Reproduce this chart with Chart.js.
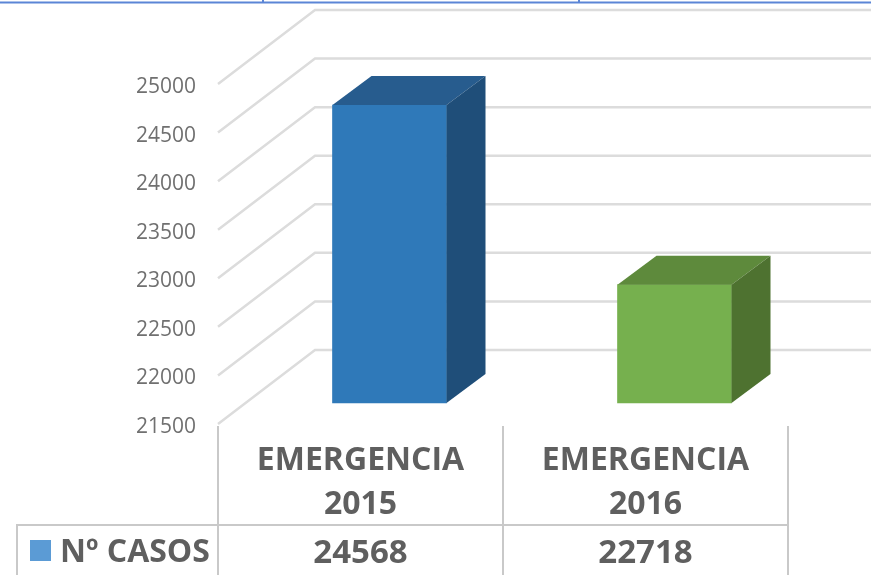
<!DOCTYPE html>
<html lang="en">
<head>
    <meta charset="UTF-8">
    <title>Emergencia 2015 / 2016</title>
    <script src="https://cdn.jsdelivr.net/npm/chart.js"></script>
    <style>
        body { margin: 0; background: #fff; }
        canvas { display: block; }
    </style>
</head>
<body>
    <canvas id="casosChart" width="871" height="575"></canvas>
    <script>
        // data
        const categories = [['EMERGENCIA', '2015'], ['EMERGENCIA', '2016']];
        const seriesName = 'Nº CASOS';
        const casos = [24568, 22718];
        const yTicks = [21500, 22000, 22500, 23000, 23500, 24000, 24500, 25000];

        const frontColors = ['#2f79b9', '#76b04e'];
        const topColors = ['#275c8e', '#5e8a3c'];
        const sideColors = ['#1f4e79', '#4e7230'];
        const legendColor = '#5b9bd5';
        const gridColor = '#dcdcdc';
        const tableColor = '#c9c9c9';
        const textColor = '#5f5f5f';
        const fontName = '"Open Sans", sans-serif';

        // fake 3d: wall depth and bar depth, in pixels
        const wall = { dx: 97, dy: 74 };
        const barShift = { dx: 29, dy: 21 };
        const barDepth = { dx: 39, dy: 29 };

        // walls, gridlines and y labels, follows the y scale
        const gridPlugin = {
            id: 'grid3d',
            beforeDatasetsDraw(chart) {
                const { ctx, chartArea, scales } = chart;
                ctx.save();
                ctx.strokeStyle = gridColor;
                ctx.lineWidth = 2.5;
                ctx.fillStyle = '#707070';
                ctx.font = '21px ' + fontName;
                ctx.textAlign = 'right';
                ctx.textBaseline = 'middle';
                scales.y.ticks.forEach(t => {
                    const y = scales.y.getPixelForValue(t.value);
                    ctx.beginPath();
                    ctx.moveTo(chartArea.left, y);
                    ctx.lineTo(chartArea.left + wall.dx, y - wall.dy);
                    ctx.lineTo(chart.width, y - wall.dy);
                    ctx.stroke();
                    // open sans sits high on the middle baseline
                    ctx.fillText(String(t.value), chartArea.left - 22, y + 3);
                });
                ctx.restore();
            }
        };

        // moves the real bars back on the floor, then adds top and side faces
        const barPlugin = {
            id: 'bars3d',
            beforeDatasetDraw(chart) {
                chart.ctx.save();
                chart.ctx.translate(barShift.dx, -barShift.dy);
            },
            afterDatasetDraw(chart, args) {
                const ctx = chart.ctx;
                args.meta.data.forEach((bar, i) => {
                    const l = bar.x - bar.width / 2;
                    const r = bar.x + bar.width / 2;
                    const d = barDepth;
                    ctx.fillStyle = topColors[i];
                    ctx.beginPath();
                    ctx.moveTo(l, bar.y);
                    ctx.lineTo(l + d.dx, bar.y - d.dy);
                    ctx.lineTo(r + d.dx, bar.y - d.dy);
                    ctx.lineTo(r, bar.y);
                    ctx.closePath();
                    ctx.fill();
                    ctx.fillStyle = sideColors[i];
                    ctx.beginPath();
                    ctx.moveTo(r, bar.y);
                    ctx.lineTo(r + d.dx, bar.y - d.dy);
                    ctx.lineTo(r + d.dx, bar.base - d.dy);
                    ctx.lineTo(r, bar.base);
                    ctx.closePath();
                    ctx.fill();
                });
                ctx.restore();
            }
        };

        // data table under the chart + thin blue line at the top of the crop
        const tablePlugin = {
            id: 'dataTable',
            afterDraw(chart) {
                const { ctx, chartArea, scales } = chart;
                const rowTop = 525;
                const bottom = chart.height;
                ctx.save();

                ctx.strokeStyle = '#5b85d6';
                ctx.lineWidth = 2;
                ctx.beginPath();
                ctx.moveTo(0, 2.5);
                ctx.lineTo(chart.width, 2.5);
                [263, 579].forEach(x => {
                    ctx.moveTo(x, 0);
                    ctx.lineTo(x, 2.5);
                });
                ctx.stroke();

                ctx.strokeStyle = tableColor;
                ctx.lineWidth = 2;
                ctx.beginPath();
                ctx.moveTo(17, bottom);
                ctx.lineTo(17, rowTop);
                ctx.lineTo(chartArea.right, rowTop);
                const cols = [chartArea.left, (chartArea.left + chartArea.right) / 2, chartArea.right];
                cols.forEach(x => {
                    ctx.moveTo(x, chartArea.bottom + 2);
                    ctx.lineTo(x, bottom);
                });
                ctx.stroke();

                ctx.fillStyle = legendColor;
                ctx.fillRect(30, 540, 21, 21);

                ctx.fillStyle = textColor;
                ctx.font = 'bold 32px ' + fontName;
                ctx.textBaseline = 'middle';
                ctx.textAlign = 'left';
                ctx.fillText(seriesName, 60, 553);
                ctx.textAlign = 'center';
                ctx.font = 'bold 33px ' + fontName;
                casos.forEach((v, i) => {
                    ctx.fillText(String(v), scales.x.getPixelForValue(i), 554);
                });
                ctx.restore();
            }
        };

        new Chart(document.getElementById('casosChart').getContext('2d'), {
            type: 'bar',
            data: {
                labels: categories,
                datasets: [{
                    label: seriesName,
                    data: casos,
                    base: yTicks[0],
                    backgroundColor: frontColors,
                    barThickness: 114,
                    clip: false
                }]
            },
            options: {
                responsive: false,
                animation: false,
                layout: { padding: { top: 84, right: 83 } },
                plugins: { legend: { display: false }, tooltip: { enabled: false } },
                scales: {
                    x: {
                        grid: { display: false },
                        border: { display: false },
                        afterFit(scale) { scale.height = 151; },
                        ticks: {
                            color: textColor,
                            padding: 6,
                            maxRotation: 0,
                            font: { family: fontName, size: 32, weight: 'bold', lineHeight: 1.4 }
                        }
                    },
                    y: {
                        min: yTicks[0],
                        max: yTicks[yTicks.length - 1],
                        grid: { display: false },
                        border: { display: false },
                        afterFit(scale) { scale.width = 218; },
                        afterBuildTicks(scale) { scale.ticks = yTicks.map(value => ({ value })); },
                        ticks: { display: false }
                    }
                }
            },
            plugins: [gridPlugin, barPlugin, tablePlugin]
        });
    </script>
</body>
</html>
